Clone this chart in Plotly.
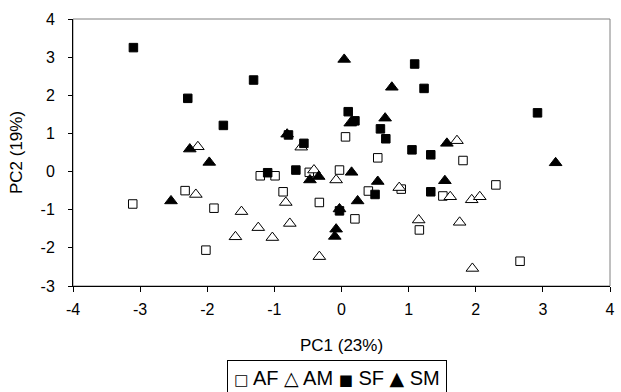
import plotly.graph_objects as go

# AF (open squares)
af_x = [-3.11, -2.33, -1.90, -2.02, -1.21, -0.99, -0.87, -0.48, -0.33, -0.03, 0.06, 0.54, 0.40, 0.89, 0.20, 1.16, 1.51, 1.81, 2.30, 2.66]
af_y = [-0.85, -0.50, -0.96, -2.06, -0.11, -0.11, -0.53, -0.02, -0.81, 0.04, 0.91, 0.36, -0.51, -0.46, -1.24, -1.53, -0.64, 0.29, -0.35, -2.35]

# AM (open triangles)
am_x = [-2.14, -2.17, -1.49, -1.24, -1.58, -1.03, -0.83, -0.77, -0.60, -0.41, -0.33, -0.08, 0.86, 1.15, 1.62, 1.72, 1.76, 1.94, 2.06, 1.95]
am_y = [0.65, -0.60, -1.05, -1.47, -1.71, -1.73, -0.81, -1.36, 0.64, 0.04, -2.23, -0.22, -0.42, -1.27, -0.66, 0.81, -1.33, -0.74, -0.66, -2.54]

# SF (filled squares)
sf_x = [-3.10, -2.29, -1.31, -1.76, -0.79, -0.56, -1.10, -0.68, 1.09, 1.23, 2.92, 0.10, 0.20, 0.58, 0.66, 1.05, 1.33, 0.50, 1.33, -0.03]
sf_y = [3.25, 1.92, 2.40, 1.21, 0.96, 0.74, -0.03, 0.04, 2.82, 2.18, 1.54, 1.57, 1.33, 1.12, 0.86, 0.57, 0.44, -0.60, -0.53, -1.03]

# SM (filled triangles)
sm_x = [-2.26, -1.97, -2.54, -0.81, -0.47, -0.34, 0.04, 0.75, 0.13, 0.65, 1.57, 3.19, 0.15, 0.54, 1.54, 0.24, -0.03, -0.08, -0.10]
sm_y = [0.59, 0.24, -0.77, 0.98, -0.22, -0.13, 2.94, 2.21, 1.27, 1.40, 0.74, 0.23, -0.02, -0.26, -0.24, -0.77, -0.98, -1.51, -1.70]

x_ticks = [-4, -3, -2, -1, 0, 1, 2, 3, 4]
x_tick_labels = ["-4", "-3", "-2", "-1", "0", "1", "2", "3", "4"]
y_ticks = [-3, -2, -1, 0, 1, 2, 3, 4]
y_tick_labels = ["-3", "-2", "-1", "0", "1", "2", "3", "4"]

series_names = ["AF", "AM", "SF", "SM"]
legend_glyphs = ["□", "△", "■", "▲"]
glyph_sizes = [15, 19, 15, 19]

FONT = "Liberation Sans, Arial, sans-serif"

legend_text = " ".join(
    f"<span style='font-family:DejaVu Sans;font-size:{s}px'>{g}</span> {n}"
    for g, s, n in zip(legend_glyphs, glyph_sizes, series_names)
)

fig = go.Figure()
fig.add_trace(go.Scatter(x=af_x, y=af_y, mode="markers", name="AF",
                         marker=dict(symbol="square", size=8.5, color="white", line=dict(color="black", width=1))))
fig.add_trace(go.Scatter(x=am_x, y=am_y, mode="markers", name="AM",
                         marker=dict(symbol="triangle-up", size=11, color="white", line=dict(color="black", width=1))))
fig.add_trace(go.Scatter(x=sf_x, y=sf_y, mode="markers", name="SF",
                         marker=dict(symbol="square", size=8.5, color="black", line=dict(color="black", width=1))))
fig.add_trace(go.Scatter(x=sm_x, y=sm_y, mode="markers", name="SM",
                         marker=dict(symbol="triangle-up", size=11, color="black", line=dict(color="black", width=1))))

fig.update_layout(
    width=621, height=392,
    margin=dict(l=73, r=11, t=19, b=106, autoexpand=False),
    paper_bgcolor="white", plot_bgcolor="white",
    font=dict(family=FONT, size=16, color="black"),
    showlegend=False,
    shapes=[dict(type="rect", xref="paper", yref="paper", x0=0, x1=1, y0=0, y1=1,
                 line=dict(color="#808080", width=1), layer="below")],
    annotations=[dict(text=legend_text, xref="paper", yref="paper",
                      x=(336.7 - 73) / 537, y=-(360 - 286) / 267, xanchor="center", yanchor="top",
                      width=216, height=32, valign="middle",
                      showarrow=False, font=dict(size=20, family=FONT),
                      bordercolor="black", borderwidth=1, borderpad=1, bgcolor="white")],
)
fig.update_xaxes(range=[-4, 4], tickvals=x_ticks, ticktext=x_tick_labels, ticks="outside", ticklen=5,
                 tickcolor="black", showline=True, linecolor="black", linewidth=1, showgrid=False,
                 zeroline=False, automargin=False, ticklabelstandoff=4,
                 title=dict(text="PC1 (23%)", font=dict(size=17), standoff=21),
                 tickfont=dict(size=16))
fig.update_yaxes(range=[-3, 4], tickvals=y_ticks, ticktext=y_tick_labels, ticks="outside", ticklen=4,
                 tickcolor="black", showline=True, linecolor="black", linewidth=1, showgrid=False,
                 zeroline=False, automargin=False, ticklabelstandoff=10,
                 title=dict(text="PC2 (19%)", font=dict(size=17), standoff=13),
                 tickfont=dict(size=16))

fig.write_html("out.html", config={"displayModeBar": False},
               post_script="document.body.style.margin='0';document.body.style.overflow='hidden';")
